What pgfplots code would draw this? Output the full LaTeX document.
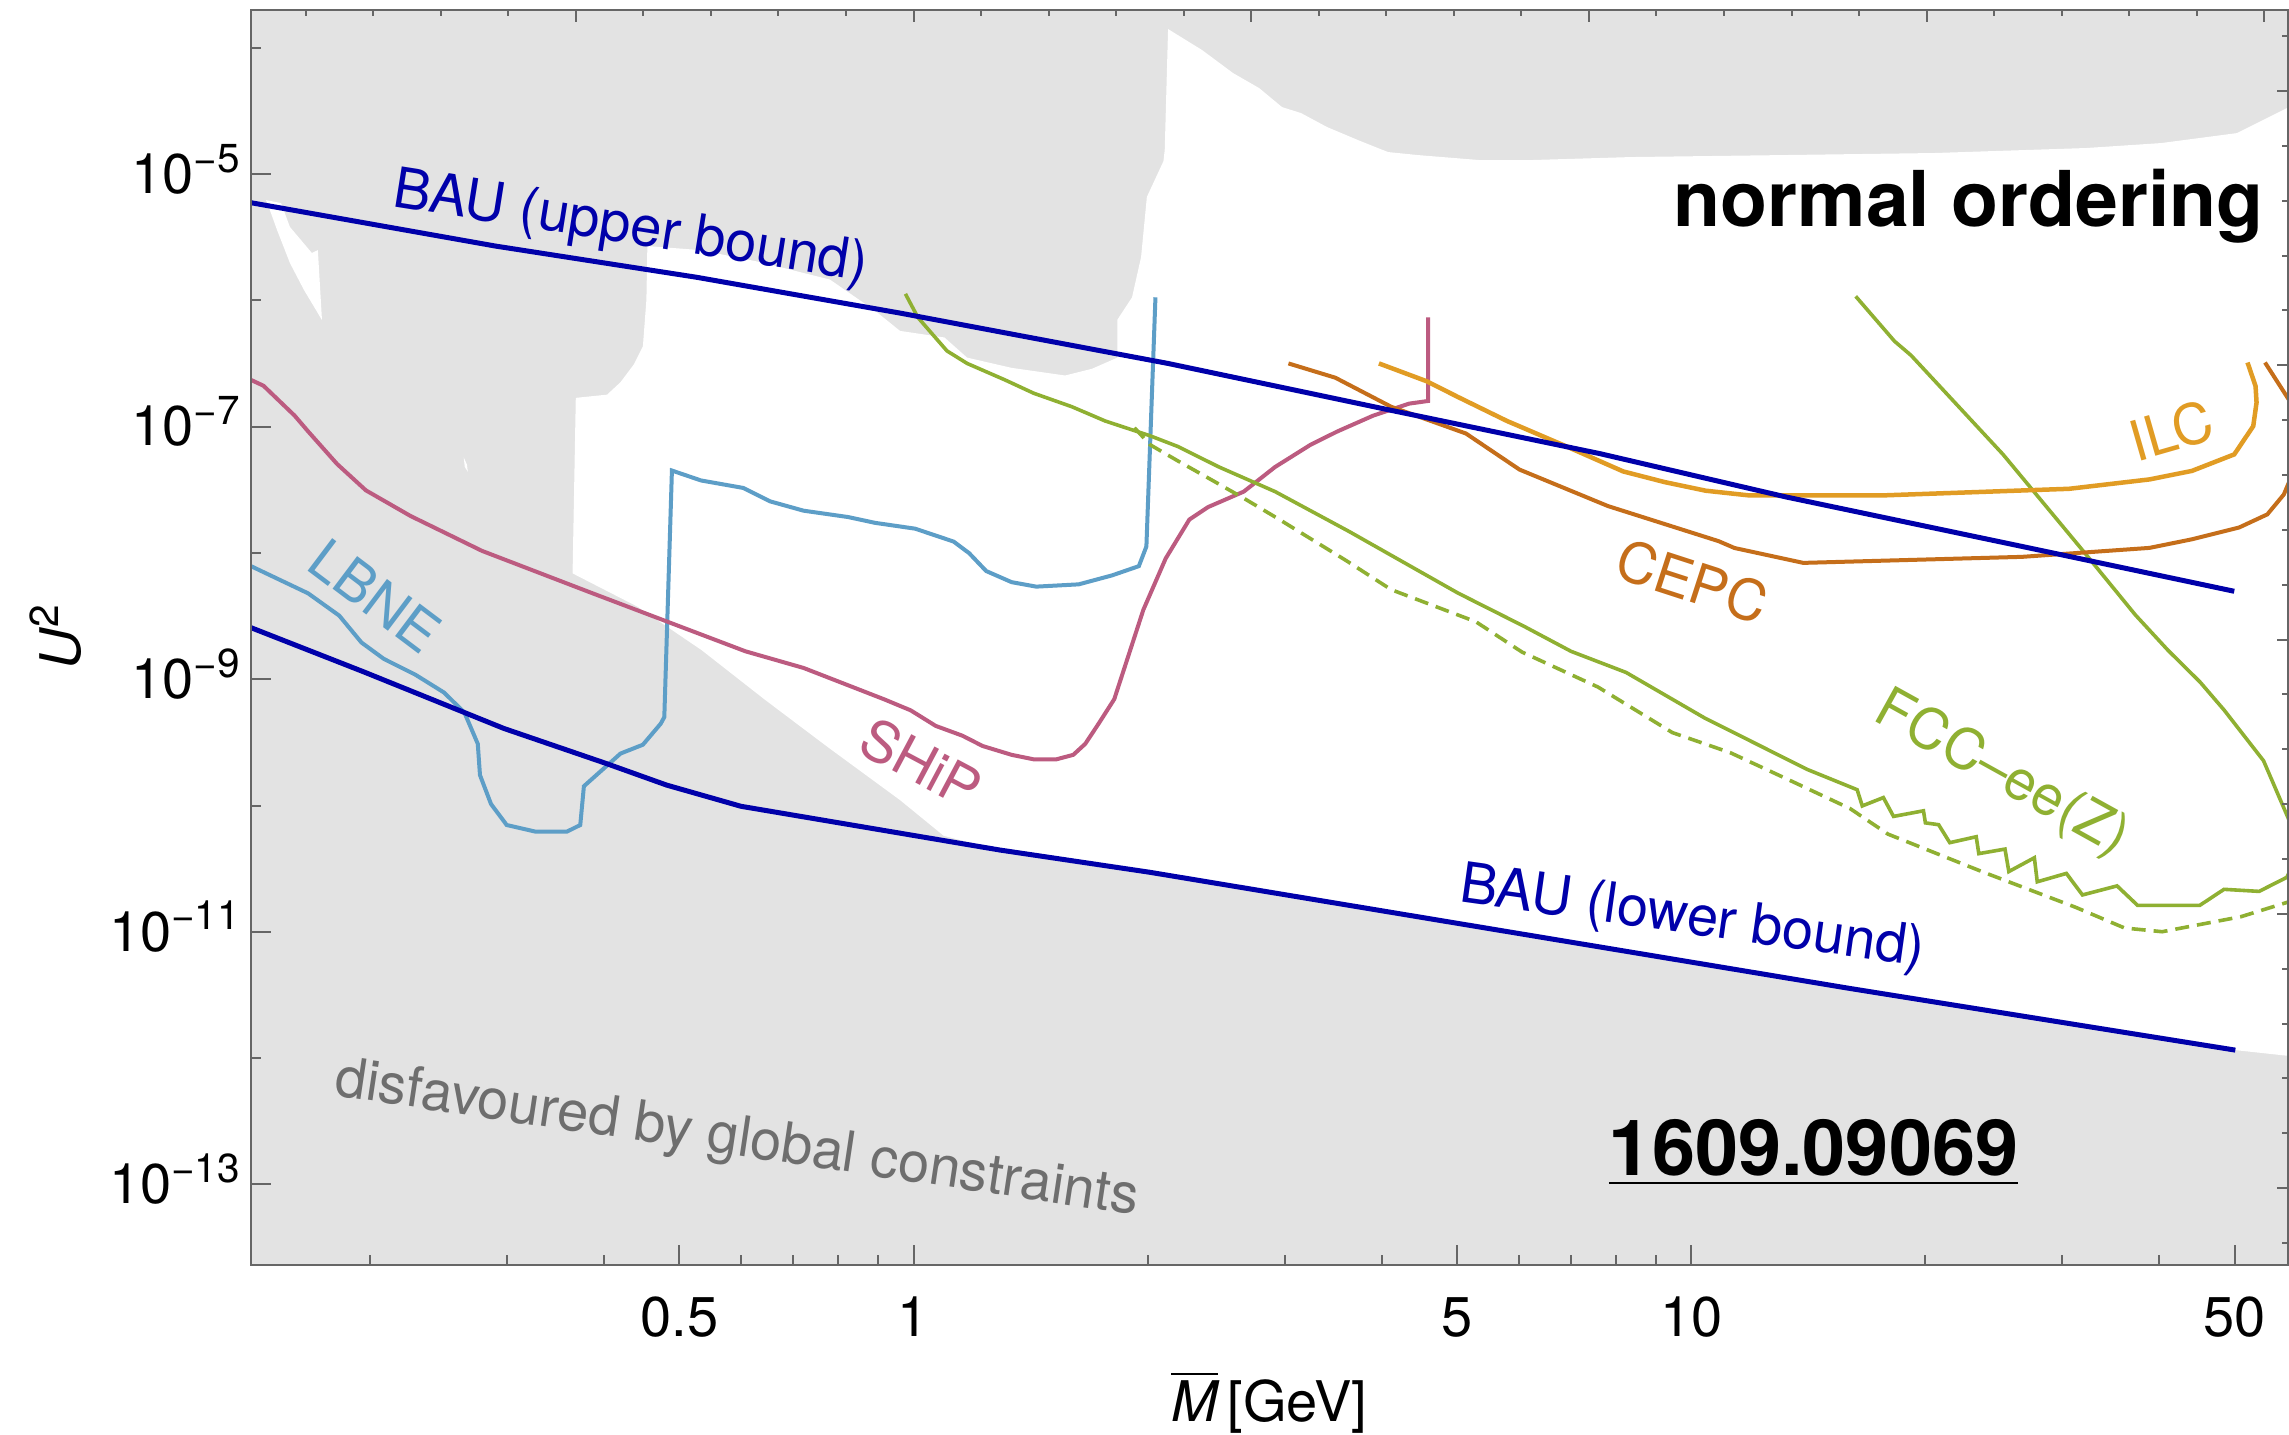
\documentclass[border=0pt]{standalone}
\usepackage{fontspec}
\setmainfont{TeX Gyre Heros}
\usepackage{pgfplots}
\pgfplotsset{compat=1.18}
\definecolor{greyreg}{RGB}{227,227,227}
\definecolor{baublue}{RGB}{0,0,170}
\definecolor{shipc}{RGB}{188,91,128}
\definecolor{lbnec}{RGB}{93,158,199}
\definecolor{fccc}{RGB}{143,176,50}
\definecolor{cepcc}{RGB}{197,110,26}
\definecolor{ilcc}{RGB}{225,156,36}
\definecolor{framec}{RGB}{102,102,102}
\definecolor{textgrey}{RGB}{110,110,110}
\newcommand{\fs}{\fontsize{11.2}{13.4}\selectfont}
\newcommand{\sups}[1]{\raisebox{0.38em}{\fontsize{8.1}{9}\selectfont #1}}
\begin{document}
\begin{tikzpicture}
\useasboundingbox (0,0) rectangle (457.8pt,286.8pt);
\begin{axis}[
  at={(50.2pt,33.8pt)}, anchor=south west,
  scale only axis, width=407.4pt, height=251pt,
  xmode=log, ymode=log,
  xmin=0.1406, xmax=58.56, ymin=2.30e-14, ymax=1.99e-4,
  axis background/.style={fill=greyreg},
  axis line style={draw=framec, line width=0.4pt},
  tick style={draw=framec, line width=0.4pt},
  xtick pos=left, ytick pos=left,
  xtick={0.5,1,5,10,50}, xticklabels={0.5,1,5,10,50},
  minor xtick={0.2,0.3,0.4,0.6,0.7,0.8,0.9,2,3,4,6,7,8,9,20,30,40},
  ytick={1e-13,1e-11,1e-9,1e-7,1e-5},
  yticklabels={10\sups{−13},10\sups{−11},10\sups{−9},10\sups{−7},10\sups{−5}},
  minor ytick={1e-12,1e-10,1e-8,1e-6,1e-4},
  major tick length=4pt, minor tick length=2pt,
  ticklabel style={font=\fs},
  xticklabel style={anchor=base, yshift=-14.2pt},
  yticklabel style={anchor=base east, yshift=-3.86pt, xshift=1.33pt},
  xlabel={$\overline{\textit{M}}$\,[GeV]},
  ylabel={\textit{U}\sups{2}},
  xlabel style={at={(axis description cs:0.5,-0.1249)}, anchor=base, font=\fs},
  ylabel style={at={(axis description cs:-0.0839,0.5)}, anchor=base, font=\fs},
]
% allowed (white) region
\addplot[fill=white, draw=none] coordinates {
(2.125,1.406e-4) (2.350,9.59e-5) (2.576,6.30e-5) (2.782,4.80e-5) (2.978,3.39e-5) (3.150,3.04e-5) (3.403,2.355e-5) (3.729,1.858e-5) (4.076,1.493e-5) (4.455,1.413e-5) (5.336,1.291e-5) (6.243,1.291e-5) (8.369,1.363e-5) (13.09,1.413e-5) (20.53,1.467e-5) (32.21,1.607e-5) (40.21,1.759e-5) (50.35,2.11e-5) (58.74,3.39e-5) (60.69,3.86e-5) (60.69,1.0e-12) (58.74,1.04e-12) (50.1,1.157e-12) (16.01,3.56e-12) (2.014,2.96e-11) (1.292,4.44e-11) (1.094,5.75e-11) (0.9607,1.105e-10) (0.7789,2.85e-10) (0.6449,6.84e-10) (0.5338,1.702e-9) (0.4418,3.75e-9) (0.3644,6.89e-9) (0.3679,1.690e-7) (0.4036,1.792e-7) (0.42,2.25e-7) (0.4369,3.11e-7) (0.4487,4.32e-7) (0.4534,1.006e-6) (0.4547,2.69e-6) (0.5314,2.50e-6) (0.6347,2.01e-6) (0.7808,1.461e-6) (0.8923,8.27e-7) (0.9607,5.73e-7) (1.096,5.08e-7) (1.172,3.52e-7) (1.337,2.92e-7) (1.567,2.54e-7) (1.696,2.87e-7) (1.829,3.52e-7) (1.829,7.03e-7) (1.910,1.056e-6) (1.962,2.20e-6) (1.996,6.59e-6) (2.096,1.263e-5) (2.104,1.549e-5)
};
\addplot[fill=white, draw=none] coordinates {
(0.147,6.22e-6) (0.1537,5.89e-6) (0.1578,3.81e-6) (0.1684,2.37e-6) (0.1714,2.50e-6) (0.1735,6.98e-7) (0.1645,1.207e-6) (0.1578,1.974e-6) (0.1519,3.60e-6) (0.1479,5.68e-6)
};
\addplot[fill=white, draw=none] coordinates {
(0.2640,5.7e-8) (0.2665,5.0e-8) (0.2672,4.4e-8) (0.2648,4.8e-8)
};
% LBNE
\addplot[lbnec, line width=0.8pt] coordinates {
(0.1406,7.86e-9) (0.1665,4.79e-9) (0.1826,3.19e-9) (0.1950,1.954e-9) (0.2084,1.448e-9) (0.2287,1.087e-9) (0.2490,7.85e-10) (0.2645,5.45e-10) (0.2752,3.08e-10) (0.2770,1.742e-10) (0.2862,1.028e-10) (0.2998,7.01e-11) (0.3266,6.21e-11) (0.3583,6.21e-11) (0.3728,7.01e-11) (0.3768,1.422e-10) (0.4200,2.58e-10) (0.4487,3.03e-10) (0.4731,4.45e-10) (0.4781,5.02e-10) (0.4890,4.49e-8) (0.5329,3.75e-8) (0.6041,3.27e-8) (0.6541,2.56e-8) (0.7222,2.16e-8) (0.8242,1.923e-8) (0.8923,1.731e-8) (1.005,1.556e-8) (1.126,1.230e-8) (1.179,9.96e-9) (1.240,7.19e-9) (1.337,5.87e-9) (1.438,5.41e-9) (1.631,5.64e-9) (1.800,6.64e-9) (1.949,7.86e-9) (1.993,1.125e-8) (2.047,1.057e-6)
};
% SHiP
\addplot[shipc, line width=0.8pt] coordinates {
(0.1406,2.344e-7) (0.1459,2.108e-7) (0.16,1.222e-7) (0.1665,9.18e-8) (0.1814,5.07e-8) (0.1976,3.13e-8) (0.2256,1.959e-8) (0.2787,1.038e-8) (0.3829,4.90e-9) (0.6081,1.663e-9) (0.7222,1.228e-9) (0.9159,6.95e-10) (0.9917,5.67e-10) (1.068,4.27e-10) (1.156,3.57e-10) (1.227,2.96e-10) (1.337,2.52e-10) (1.428,2.32e-10) (1.526,2.32e-10) (1.605,2.52e-10) (1.663,3.08e-10) (1.730,4.45e-10) (1.812,6.95e-10) (1.975,3.54e-9) (2.110,9.04e-9) (2.263,1.837e-8) (2.392,2.307e-8) (2.659,3.06e-8) (2.917,4.79e-8) (3.242,7.20e-8) (3.511,9.18e-8) (3.901,1.222e-7) (4.337,1.521e-7) (4.590,1.597e-7) (4.590,7.32e-7)
};
% FCC-ee(Z) solid
\addplot[fccc, line width=0.72pt] coordinates {
(0.9763,1.126e-6) (1.013,7.32e-7) (1.104,3.98e-7) (1.172,3.166e-7) (1.311,2.344e-7) (1.428,1.837e-7) (1.598,1.438e-7) (1.765,1.107e-7) (2.014,8.47e-8) (2.189,6.95e-8) (2.471,4.79e-8) (2.917,3.06e-8) (3.627,1.486e-8) (5.014,4.81e-9) (6.114,2.60e-9) (7.008,1.663e-9) (8.247,1.132e-9) (10.41,4.93e-10) (14.10,1.932e-10) (16.35,1.334e-10) (16.60,9.93e-11) (17.67,1.156e-10) (18.21,8.20e-11) (19.90,9.08e-11) (20.01,7.29e-11) (20.81,7.05e-11) (21.51,5.08e-11) (23.26,5.66e-11) (23.44,4.16e-11) (25.33,4.52e-11) (25.62,3.00e-11) (27.63,3.86e-11) (27.87,2.49e-11) (30.38,2.90e-11) (31.86,1.959e-11) (35.30,2.31e-11) (37.52,1.618e-11) (45.08,1.618e-11) (48.45,2.17e-11) (53.75,2.09e-11) (58.35,2.70e-11) (60.69,4.44e-11) (58.75,7.65e-11) (54.47,2.26e-10) (48.45,5.71e-10) (45.13,9.50e-10) (41.02,1.702e-9) (37.25,3.24e-9) (31.94,1.033e-8) (25.18,6.03e-8) (19.18,3.67e-7) (18.26,4.75e-7) (16.28,1.076e-6)
};
% FCC-ee(Z) dashed
\addplot[fccc, line width=0.72pt, dash pattern=on 2.8pt off 1.6pt] coordinates {
(1.924,9.80e-8) (2.014,7.20e-8) (2.181,5.41e-8) (2.424,3.75e-8) (2.659,2.71e-8) (2.956,1.837e-8) (3.604,8.67e-9) (4.114,5.12e-9) (5.288,2.85e-9) (6.061,1.641e-9) (7.591,8.67e-10) (9.459,3.78e-10) (11.23,2.62e-10) (13.56,1.528e-10) (16.01,9.46e-11) (17.91,5.94e-11) (23.65,3.00e-11) (31.23,1.563e-11) (36.09,1.072e-11) (40.34,1.002e-11) (50.95,1.318e-11) (58.74,1.730e-11)
};
% CEPC
\addplot[cepcc, line width=0.8pt] coordinates {
(3.035,3.166e-7) (3.487,2.44e-7) (4.114,1.437e-7) (5.134,8.82e-8) (6.016,4.57e-8) (7.817,2.35e-8) (10.85,1.239e-8) (11.37,1.094e-8) (13.94,8.34e-9) (26.64,9.31e-9) (38.85,1.096e-8) (44.05,1.282e-8) (50.65,1.589e-8) (55.08,2.02e-8) (57.83,2.90e-8) (58.74,3.64e-8) (62.5,7.83e-8) (58.74,1.625e-7) (54.70,3.22e-7)
};
% ILC
\addplot[ilcc, line width=0.9pt] coordinates {
(3.968,3.166e-7) (4.573,2.284e-7) (5.014,1.716e-7) (5.800,1.107e-7) (6.884,7.05e-8) (8.177,4.42e-8) (9.243,3.64e-8) (10.44,3.11e-8) (11.84,2.86e-8) (17.51,2.85e-8) (30.63,3.22e-8) (38.85,3.82e-8) (44.05,4.46e-8) (49.94,6.03e-8) (52.83,1.009e-7) (53.35,1.552e-7) (53.19,2.096e-7) (51.94,3.22e-7)
};
% BAU upper bound
\addplot[baublue, line width=1.0pt] coordinates {
(0.1406,5.93e-6) (0.290,2.69e-6) (0.5257,1.524e-6) (0.9608,7.93e-7) (2.124,3.166e-7) (4.113,1.346e-7) (7.636,6.11e-8) (13.24,2.776e-8) (26.65,1.125e-8) (49.94,4.97e-9)
};
% BAU lower bound
\addplot[baublue, line width=1.0pt] coordinates {
(0.1406,2.56e-9) (0.1962,1.146e-9) (0.2972,4.08e-10) (0.4036,2.14e-10) (0.4813,1.452e-10) (0.6,9.86e-11) (1.292,4.44e-11) (2.014,2.96e-11) (16.01,3.56e-12) (50.1,1.157e-12)
};
% labels
\node[anchor=base west, rotate=-9, text=baublue, font=\fs, inner sep=0pt] at (axis cs:0.2126,5.60e-6) {BAU (upper bound)};
\node[anchor=base west, rotate=-8, text=baublue, font=\fs, inner sep=0pt] at (axis cs:5.0,1.754e-11) {BAU (lower bound)};
\node[anchor=base west, rotate=-37, text=lbnec, font=\fs, inner sep=0pt] at (axis cs:0.1643,7.67e-9) {LBNE};
\node[anchor=base west, rotate=-28, text=shipc, font=\fs, inner sep=0pt] at (axis cs:0.8392,2.72e-10) {SHiP};
\node[anchor=base west, rotate=-18, text=cepcc, font=\fs, inner sep=0pt] at (axis cs:7.89,6.49e-9) {CEPC};
\node[anchor=base west, rotate=16, text=ilcc, font=\fs, inner sep=0pt] at (axis cs:37.25,5.21e-8) {ILC};
\node[anchor=base west, rotate=-29, text=fccc, font=\fs, inner sep=0pt] at (axis cs:17.03,4.80e-10) {FCC--ee(Z)};
\node[anchor=base west, rotate=-8.5, text=textgrey, font=\fs, inner sep=0pt] at (axis cs:0.1791,5.10e-13) {disfavoured by global constraints};
\node[anchor=base east, font=\fontsize{15.4}{18}\selectfont\bfseries, inner sep=0pt] at (axis cs:54.7,3.81e-6) {normal ordering};
\node[anchor=base west, font=\fontsize{15.5}{18}\selectfont\bfseries, inner sep=0pt] at (axis cs:7.817,1.186e-13) {\underline{1609.09069}};
\end{axis}
\begin{axis}[
  at={(50.2pt,33.8pt)}, anchor=south west,
  scale only axis, width=407.4pt, height=251pt,
  xmode=log, ymode=log,
  xmin=0.1406, xmax=58.56, ymin=2.30e-14, ymax=1.99e-4,
  axis line style={draw=framec, line width=0.4pt},
  tick style={draw=framec, line width=0.4pt},
  xtick pos=right, ytick pos=right,
  xtick={0.36788,1,2.71828,7.38906,20.0855,54.5982}, xticklabels={},
  minor xtick={0.16530,0.20190,0.24660,0.30119,0.44933,0.54881,0.67032,0.81873,1.22140,1.49182,1.82212,2.22554,3.32012,4.05520,4.95303,6.04965,9.02501,11.0232,13.4637,16.4446,24.5325,29.9641,36.5982,44.7012},
  ytick={4.540e-5,3.059e-7,2.061e-9,1.389e-11,9.358e-14}, yticklabels={},
  minor ytick={1.234e-4,1.670e-5,6.144e-6,2.260e-6,8.315e-7,1.125e-7,4.140e-8,1.523e-8,5.603e-9,7.583e-10,2.789e-10,1.026e-10,3.775e-11,5.109e-12,1.880e-12,6.914e-13,2.544e-13,3.442e-14},
  major tick length=2.3pt, minor tick length=1.2pt,
]
\end{axis}
\end{tikzpicture}
\end{document}
